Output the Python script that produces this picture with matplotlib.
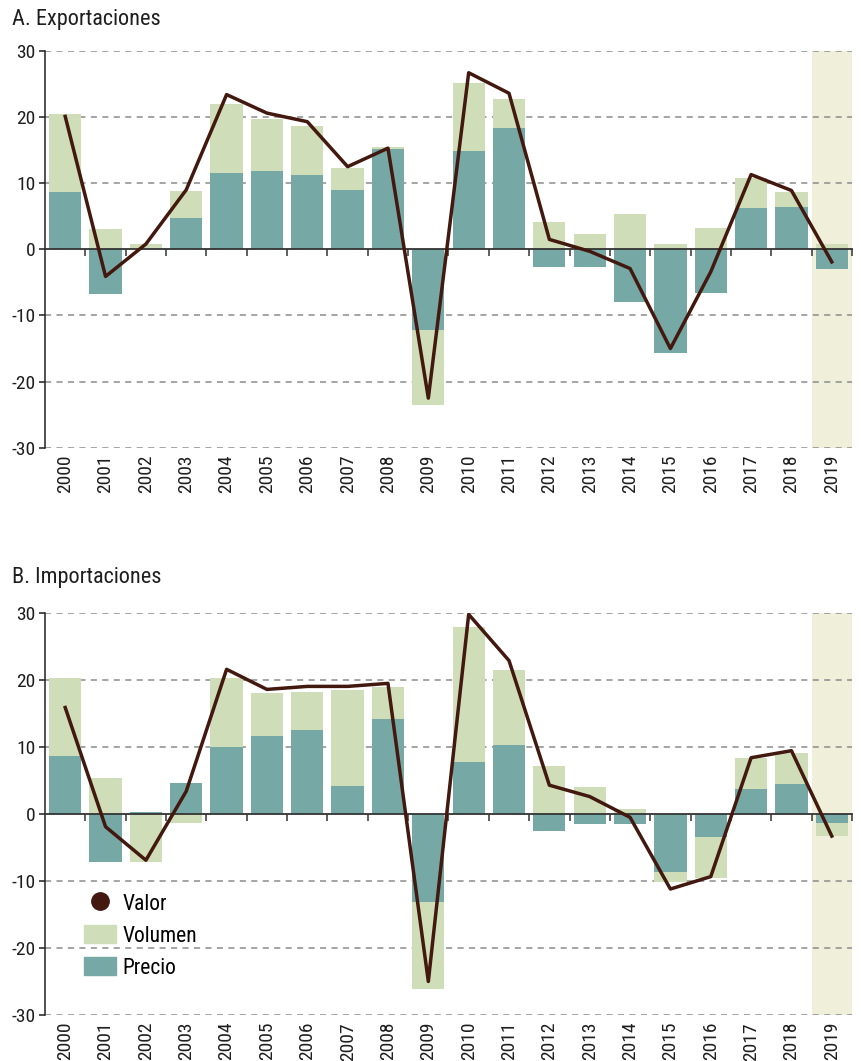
#!/usr/bin/env python3
import sys
import numpy as np
import matplotlib as mpl
mpl.use('Agg')
import matplotlib.pyplot as plt
from matplotlib.lines import Line2D
from matplotlib.patches import Patch

plt.rcParams['font.family'] = ['Roboto Condensed', 'Liberation Sans Narrow', 'DejaVu Sans']
plt.rcParams['axes.unicode_minus'] = False

years = [str(y) for y in range(2000, 2020)]

# exportaciones
exp_precio = [8.6, -6.8, 0.0, 4.8, 11.6, 11.8, 11.2, 9.0, 15.1, -12.2,
              14.8, 18.3, -2.7, -2.7, -7.9, -15.7, -6.6, 6.2, 6.4, -2.9]
exp_volumen = [11.9, 3.0, 0.75, 4.0, 10.4, 7.9, 7.4, 3.3, 0.3, -11.3,
               10.3, 4.4, 4.2, 2.3, 5.3, 0.75, 3.2, 4.55, 2.2, 0.75]
exp_valor = [20.1, -4.1, 0.8, 9.0, 23.4, 20.6, 19.3, 12.5, 15.3, -22.5,
             26.7, 23.6, 1.5, -0.3, -2.9, -15.0, -3.4, 11.3, 8.9, -1.9]

# importaciones
imp_precio = [8.6, -7.1, 0.25, 4.6, 10.05, 11.7, 12.6, 4.2, 14.2, -13.2,
              7.8, 10.3, -2.5, -1.5, -1.5, -8.7, -3.5, 3.7, 4.5, -1.3]
imp_volumen = [11.7, 5.3, -7.1, -1.3, 10.25, 6.3, 5.6, 14.3, 4.8, -12.9,
               20.1, 11.2, 7.1, 4.0, 0.75, -1.4, -6.1, 4.7, 4.6, -2.0]
imp_valor = [15.9, -1.9, -6.9, 3.4, 21.6, 18.6, 19.05, 19.05, 19.5, -25.0,
             29.8, 22.9, 4.3, 2.6, -0.5, -11.2, -9.35, 8.4, 9.45, -3.3]

TEAL = '#76a9a6'
GREEN = '#cfddb8'
BROWN = '#42180f'
SHADE = '#f0efda'
TXT = '#1e1e1e'


def draw(ax, precio, volumen, valor):
    x = np.arange(len(years))
    precio = np.array(precio)
    volumen = np.array(volumen)
    # volumen sits on top of precio when both share a sign, else starts at zero
    vbottom = np.where(np.sign(volumen) == np.sign(precio), precio, 0)

    ax.axvspan(18.5, 19.5, color=SHADE, lw=0, zorder=0)
    for y in [-30, -20, -10, 10, 20, 30]:
        ax.axhline(y, color='#8c8c8c', lw=1.1, ls=(0, (4, 3.5)), zorder=1)
    ax.bar(x, precio, 0.8, color=TEAL, zorder=2)
    ax.bar(x, volumen, 0.8, bottom=vbottom, color=GREEN, zorder=2)
    ax.plot(x, valor, color=BROWN, lw=2.5, zorder=4)

    ax.set_xlim(-0.5, 19.5)
    ax.set_ylim(-30, 30)
    for s in ['top', 'right']:
        ax.spines[s].set_visible(False)
    ax.spines['bottom'].set_position(('data', 0))
    ax.spines['bottom'].set_color('#333333')
    ax.spines['bottom'].set_linewidth(1.3)
    ax.spines['bottom'].set_zorder(3)
    ax.spines['left'].set_color('#222222')
    ax.spines['left'].set_linewidth(1.1)
    ax.spines['left'].set_bounds(-30, 30)

    ax.set_xticks(np.arange(0.5, 20, 1))
    ax.set_xticklabels([])
    ax.tick_params(axis='x', direction='out', length=5, width=1.1, color='#333333')
    ax.set_yticks(range(-30, 31, 10))
    ax.tick_params(axis='y', direction='out', length=4, width=1.1,
                   labelsize=14, colors=TXT, pad=3)
    for i, yr in enumerate(years):
        ax.annotate(yr, (i, -30), xytext=(0, -5), textcoords='offset points',
                    rotation=90, ha='center', va='top', fontsize=14,
                    color=TXT)


def main():
    fig = plt.figure(figsize=(8.61, 10.61), dpi=100)
    axA = fig.add_axes([0.0523, 0.578, 0.9372, 0.374])
    axB = fig.add_axes([0.0523, 0.0434, 0.9372, 0.3788])
    draw(axA, exp_precio, exp_volumen, exp_valor)
    draw(axB, imp_precio, imp_volumen, imp_valor)

    fig.text(0.014, 1 - 19 / 1061, 'A. Exportaciones', fontsize=16,
             va='center', ha='left', color=TXT)
    fig.text(0.014, 1 - 577 / 1061, 'B. Importaciones', fontsize=16,
             va='center', ha='left', color=TXT)

    handles = [
        Line2D([], [], ls='none', marker='o', markersize=12.5, color=BROWN),
        Patch(color=GREEN),
        Patch(color=TEAL),
    ]
    axB.legend(handles, ['Valor', 'Volumen', 'Precio'], loc='upper left',
               bbox_to_anchor=(0.048, 0.303), frameon=False, fontsize=15.5,
               handlelength=1.5, handleheight=0.9, handletextpad=0.3,
               labelspacing=0.5, borderpad=0, borderaxespad=0)

    plt.savefig('out.png', dpi=100)


if __name__ == '__main__':
    sys.exit(main())
